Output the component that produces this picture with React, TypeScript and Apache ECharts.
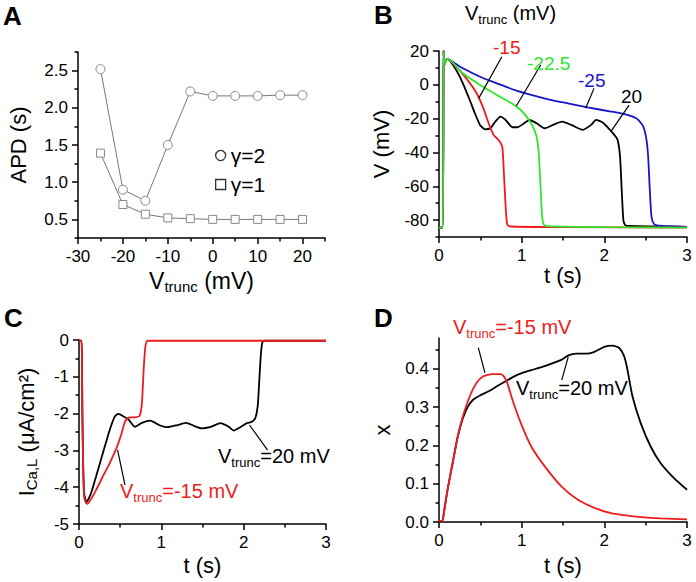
import React, { useEffect, useRef } from 'react';
import * as echarts from 'echarts';

// ---------- Panel A data ----------
const vTruncValues = [-25, -20, -15, -10, -5, 0, 5, 10, 15, 20];
const apdGamma2 = [2.52, 0.9, 0.75, 1.5, 2.22, 2.16, 2.16, 2.16, 2.17, 2.17];
const apdGamma1 = [1.39, 0.7, 0.57, 0.52, 0.51, 0.5, 0.5, 0.5, 0.5, 0.5];

// ---------- Panel B data: V (mV) vs t (s) ----------
const vB_m15 = [[0, -84.5], [0.045, -84.5], [0.055, 20], [0.065, 12], [0.08, 14], [0.103, 15.3], [0.207, 10.7], [0.33, 3.8], [0.455, -5], [0.537, -13.9], [0.6, -22.7], [0.66, -29.6], [0.72, -32.6], [0.765, -36.5], [0.785, -52.3], [0.806, -72], [0.826, -82.8], [0.868, -83.8], [1.5, -84.2], [3, -84.5]];
const vB_m225 = [[0, -84.5], [0.045, -84.5], [0.055, 20], [0.065, 12], [0.08, 14], [0.103, 15.3], [0.289, 6.8], [0.496, -0.1], [0.7, -6], [0.909, -11.9], [0.99, -14.9], [1.074, -19.8], [1.136, -24.7], [1.18, -30.6], [1.207, -40.5], [1.23, -62], [1.248, -78], [1.27, -82.8], [1.32, -83.6], [2, -84.2], [3, -84.5]];
const vB_m25 = [[0, -84.5], [0.045, -84.5], [0.055, 20], [0.065, 12], [0.08, 14], [0.103, 15.3], [0.2, 12.5], [0.289, 9.8], [0.496, 4.8], [0.7, 0.9], [0.909, -3], [1.116, -6], [1.32, -8.6], [1.49, -10.3], [1.8, -13.4], [2.08, -15.8], [2.28, -17.8], [2.4, -20.3], [2.47, -24.6], [2.51, -32.5], [2.53, -42.4], [2.55, -62], [2.57, -77.8], [2.6, -82.3], [2.66, -83.3], [3, -84]];
const vB_p20 = [[0, -84.5], [0.045, -84.5], [0.055, 20], [0.065, 12], [0.08, 14], [0.103, 15.3], [0.207, 8.8], [0.289, 0.9], [0.372, -9], [0.434, -16.8], [0.496, -23.7], [0.558, -26.3], [0.62, -25.7], [0.68, -21.8], [0.744, -18.8], [0.806, -20.8], [0.888, -25.1], [0.95, -25.1], [1.03, -22.7], [1.095, -20.8], [1.18, -22.7], [1.28, -25.7], [1.38, -23.7], [1.49, -21.8], [1.6, -23.7], [1.74, -26.6], [1.84, -23.7], [1.9, -20.7], [1.98, -22.3], [2.06, -26.2], [2.12, -29.6], [2.16, -32.5], [2.19, -42.4], [2.21, -62], [2.23, -79.9], [2.25, -82.8], [2.3, -83.5], [3, -84]];
const leadB_m15 = [[0.76, 16.6], [0.48, -8]];
const leadB_m225 = [[1.23, 11.7], [0.935, -12.5]];
const leadB_m25 = [[1.875, -2.1], [1.774, -13.9]];
const leadB_p20 = [[2.3, -12], [2.078, -27.7]];

// ---------- Panel C data: I_CaL vs t ----------
const iC_m15 = [[0, -0.02], [0.03, -0.02], [0.036, -0.63], [0.041, -2], [0.05, -3.35], [0.062, -4.26], [0.083, -4.42], [0.103, -4.45], [0.145, -4.33], [0.207, -4.08], [0.289, -3.71], [0.372, -3.35], [0.455, -2.94], [0.517, -2.54], [0.558, -2.22], [0.6, -2.11], [0.68, -2.1], [0.736, -2.06], [0.764, -1.72], [0.785, -0.82], [0.806, -0.18], [0.835, -0.02], [3, -0.02]];
const iC_p20 = [[0, -0.02], [0.03, -0.02], [0.036, -0.6], [0.041, -2], [0.05, -3.3], [0.062, -4.17], [0.083, -4.37], [0.09, -4.4], [0.145, -4.17], [0.207, -3.71], [0.289, -3.08], [0.372, -2.45], [0.434, -2.08], [0.475, -2.01], [0.537, -2.07], [0.6, -2.16], [0.68, -2.36], [0.764, -2.25], [0.868, -2.19], [0.971, -2.31], [1.074, -2.37], [1.198, -2.31], [1.3, -2.25], [1.405, -2.34], [1.49, -2.4], [1.6, -2.36], [1.72, -2.26], [1.82, -2.36], [1.88, -2.46], [1.96, -2.37], [2.04, -2.26], [2.1, -2.22], [2.14, -2.13], [2.17, -1.81], [2.19, -1.09], [2.21, -0.36], [2.23, -0.05], [2.26, -0.02], [3, -0.02]];
const leadC_p20 = [[2.07, -2.31], [2.29, -2.99]];
const leadC_m15 = [[0.469, -2.99], [0.558, -3.94]];

// ---------- Panel D data: x vs t ----------
const xD_m15 = [[0, 0.003], [0.04, 0.003], [0.062, 0.028], [0.103, 0.084], [0.165, 0.154], [0.227, 0.223], [0.289, 0.276], [0.372, 0.328], [0.455, 0.363], [0.537, 0.38], [0.64, 0.386], [0.744, 0.386], [0.785, 0.38], [0.826, 0.363], [0.888, 0.319], [0.99, 0.258], [1.116, 0.197], [1.28, 0.145], [1.48, 0.093], [1.68, 0.058], [1.88, 0.037], [2.08, 0.023], [2.28, 0.0165], [2.48, 0.012], [2.68, 0.0096], [3, 0.007]];
const xD_p20 = [[0, 0.003], [0.04, 0.003], [0.062, 0.028], [0.103, 0.084], [0.165, 0.154], [0.227, 0.223], [0.289, 0.271], [0.351, 0.302], [0.413, 0.319], [0.496, 0.33], [0.6, 0.341], [0.7, 0.354], [0.806, 0.367], [0.909, 0.38], [1.01, 0.389], [1.116, 0.396], [1.24, 0.404], [1.36, 0.413], [1.48, 0.423], [1.56, 0.434], [1.66, 0.439], [1.78, 0.439], [1.88, 0.444], [2.0, 0.457], [2.1, 0.46], [2.18, 0.454], [2.24, 0.432], [2.28, 0.397], [2.34, 0.328], [2.44, 0.258], [2.56, 0.197], [2.68, 0.154], [2.84, 0.115], [3.0, 0.084]];
const leadD_m15 = [[0.475, 0.455], [0.556, 0.389]];
const leadD_p20 = [[1.563, 0.43], [1.484, 0.37]];

// ---------- Ticks ----------
const ticksA_x = [-30, -20, -10, 0, 10, 20];
const minorA_x = [-25, -15, -5, 5, 15, 25];
const ticksA_y = [0.5, 1.0, 1.5, 2.0, 2.5];
const minorA_y = [0.25, 0.75, 1.25, 1.75, 2.25, 2.75];
const ticksT = [0, 1, 2, 3];
const minorT = [0.5, 1.5, 2.5];
const ticksB_y = [-80, -60, -40, -20, 0, 20];
const minorB_y = [-90, -70, -50, -30, -10, 10];
const ticksC_y = [-5, -4, -3, -2, -1, 0];
const minorC_y = [-4.5, -3.5, -2.5, -1.5, -0.5];
const ticksD_y = [0, 0.1, 0.2, 0.3, 0.4];
const minorD_y = [0.05, 0.15, 0.25, 0.35, 0.45];

const FONT = '"Liberation Sans", Arial, Helvetica, sans-serif';
const RED = '#ee1c1c';
const GREEN = '#2ee62e';
const BLUE = '#1616c8';

const subRich = (size: number, color = '#000', subSize = 13) => ({
  m: { fontSize: size, lineHeight: 26, fontFamily: FONT, color },
  s: { fontSize: subSize, lineHeight: 11, verticalAlign: 'bottom', fontFamily: FONT, color },
});

function axes(kind: 'x' | 'y', grid: number, min: number, max: number, major: number[], minor: number[], fmt: (v: number) => string, name: string, nameGap: number, rich?: any, nameSize = 22) {
  const lineStyle = { color: '#000', width: 1.5 };
  const main: any = {
    type: 'value', gridIndex: grid, min, max,
    position: kind === 'x' ? 'bottom' : 'left',
    name, nameLocation: 'middle', nameGap, nameRotate: kind === 'y' ? 90 : 0,
    nameTextStyle: { fontFamily: FONT, fontSize: nameSize, color: '#000', rich },
    axisLine: { show: true, onZero: false, lineStyle },
    axisTick: { show: true, length: 6, customValues: major, lineStyle },
    axisLabel: { show: true, customValues: major, formatter: fmt, fontFamily: FONT, fontSize: 17, color: '#000', margin: 10 },
    splitLine: { show: false },
  };
  const minorAxis: any = {
    type: 'value', gridIndex: grid, min, max,
    position: kind === 'x' ? 'bottom' : 'left',
    axisLine: { show: false, onZero: false },
    axisTick: { show: true, length: 3.5, customValues: minor, lineStyle },
    axisLabel: { show: false },
    splitLine: { show: false },
  };
  return [main, minorAxis];
}

const f0 = (v: number) => String(v);
const f1 = (v: number) => v.toFixed(1);

function curve(name: string, data: number[][], color: string, grid: number, width = 1.8) {
  return {
    type: 'line', name, data, xAxisIndex: grid * 2, yAxisIndex: grid * 2,
    showSymbol: false, symbol: 'none', smooth: 0.2,
    lineStyle: { color, width }, itemStyle: { color }, silent: true, z: 3,
  };
}

function leader(data: number[][], grid: number) {
  return {
    type: 'line', data, xAxisIndex: grid * 2, yAxisIndex: grid * 2,
    showSymbol: false, symbol: 'none', lineStyle: { color: '#000', width: 1.2 }, silent: true, z: 4,
  };
}

function label(text: string, left: number, top: number, color: string, size = 20) {
  return {
    type: 'text', left, top, z: 10,
    style: { text, rich: subRich(size, color), fill: color, font: `${size}px ${FONT}` },
  };
}
function plain(text: string, left: number, top: number, color: string, size = 19, bold = false) {
  return {
    type: 'text', left, top, z: 10,
    style: { text, fill: color, font: `${bold ? 'bold ' : ''}${size}px ${FONT}` },
  };
}

export default function App() {
  const ref = useRef<HTMLDivElement>(null);
  useEffect(() => {
    if (!ref.current) return;
    const chart = echarts.init(ref.current, undefined, { renderer: 'svg' });
    const vtr = '{m|V}{s|trunc}{m| (mV)}';
    const xAxes = [
      ...axes('x', 0, -30, 25, ticksA_x, minorA_x, f0, vtr, 30, subRich(23, '#000', 15), 23),
      ...axes('x', 1, 0, 3, ticksT, minorT, f0, 't (s)', 24),
      ...axes('x', 2, 0, 3, ticksT, minorT, f0, 't (s)', 30),
      ...axes('x', 3, 0, 3, ticksT, minorT, f0, 't (s)', 32),
    ];
    const yAxes = [
      ...axes('y', 0, 0.25, 2.75, ticksA_y, minorA_y, f1, 'APD (s)', 49),
      ...axes('y', 1, -90, 20, ticksB_y, minorB_y, f0, 'V (mV)', 47),
      ...axes('y', 2, -5, 0, ticksC_y, minorC_y, f0, '{m|I}{s|Ca,L}{m| (μA/cm²)}', 40, subRich(22, '#000', 15)),
      ...axes('y', 3, 0, 0.48, ticksD_y, minorD_y, f1, 'x', 46),
    ];
    const option: any = {
      animation: false,
      backgroundColor: '#fff',
      textStyle: { fontFamily: FONT },
      grid: [
        { left: 78, top: 52, width: 247, height: 186, outerBoundsMode: 'none', containLabel: false },
        { left: 439, top: 51, width: 248, height: 186, outerBoundsMode: 'none', containLabel: false },
        { left: 79, top: 340, width: 247, height: 184, outerBoundsMode: 'none', containLabel: false },
        { left: 439, top: 338, width: 248, height: 184, outerBoundsMode: 'none', containLabel: false },
      ],
      xAxis: xAxes,
      yAxis: yAxes,
      legend: {
        left: 210, top: 140, orient: 'vertical', itemWidth: 10, itemHeight: 10, itemGap: 8,
        textStyle: { fontFamily: FONT, fontSize: 21, color: '#000' },
        data: [
          { name: 'γ=2', icon: 'circle', itemStyle: { color: '#fff', borderColor: '#333', borderWidth: 1.3 } },
          { name: 'γ=1', icon: 'rect', itemStyle: { color: '#fff', borderColor: '#333', borderWidth: 1.3 } },
        ],
        selectedMode: false,
      },
      series: [
        {
          type: 'line', name: 'γ=2', xAxisIndex: 0, yAxisIndex: 0,
          data: vTruncValues.map((v, i) => [v, apdGamma2[i]]),
          symbol: 'circle', symbolSize: 9,
          lineStyle: { color: '#777', width: 1 },
          itemStyle: { color: '#fff', borderColor: '#888', borderWidth: 1 },
        },
        {
          type: 'line', name: 'γ=1', xAxisIndex: 0, yAxisIndex: 0,
          data: vTruncValues.map((v, i) => [v, apdGamma1[i]]),
          symbol: 'rect', symbolSize: 8,
          lineStyle: { color: '#777', width: 1 },
          itemStyle: { color: '#fff', borderColor: '#888', borderWidth: 1 },
        },
        curve('B 20', vB_p20, '#000', 1),
        curve('B -25', vB_m25, BLUE, 1),
        curve('B -15', vB_m15, RED, 1),
        curve('B -22.5', vB_m225, GREEN, 1),
        leader(leadB_m15, 1), leader(leadB_m225, 1), leader(leadB_m25, 1), leader(leadB_p20, 1),
        curve('C 20', iC_p20, '#000', 2),
        curve('C -15', iC_m15, RED, 2),
        leader(leadC_p20, 2), leader(leadC_m15, 2),
        curve('D 20', xD_p20, '#000', 3),
        curve('D -15', xD_m15, RED, 3),
        leader(leadD_m15, 3), leader(leadD_p20, 3),
      ],
      graphic: [
        plain('A', 3, 3, '#000', 26, true),
        plain('B', 374, 2, '#000', 26, true),
        plain('C', 4, 305, '#000', 26, true),
        plain('D', 374, 305, '#000', 26, true),
        label('{m|V}{s|trunc}{m| (mV)}', 465, 3, '#000'),
        plain('-15', 493, 38, RED, 19),
        plain('-22.5', 527, 54, GREEN, 19),
        plain('-25', 578, 71, BLUE, 19),
        plain('20', 621, 87, '#000', 19),
        label('{m|V}{s|trunc}{m|=20 mV}', 218, 446, '#000'),
        label('{m|V}{s|trunc}{m|=-15 mV}', 120, 481, RED),
        label('{m|V}{s|trunc}{m|=-15 mV}', 453, 317, RED),
        label('{m|V}{s|trunc}{m|=20 mV}', 516, 378, '#000'),
      ],
    };
    chart.setOption(option);
    return () => chart.dispose();
  }, []);
  return <div ref={ref} style={{ position: 'fixed', left: 0, top: 0, width: 696, height: 582, background: '#fff' }} />;
}
